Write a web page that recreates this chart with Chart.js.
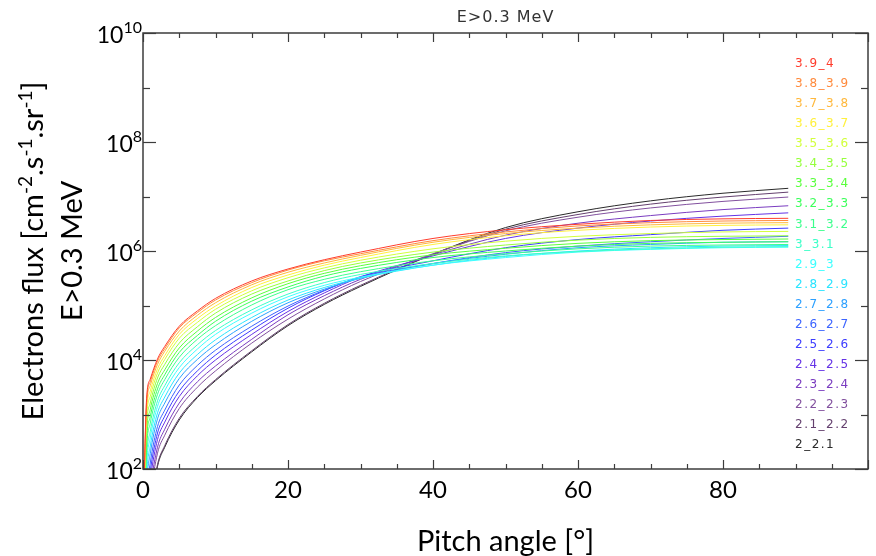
<!DOCTYPE html>
<html>
<head>
<meta charset="utf-8">
<script src="https://cdn.jsdelivr.net/npm/chart.js@4.4.1/dist/chart.umd.min.js"></script>
<style>
html, body { margin: 0; padding: 0; background: #fff; }
#wrap { width: 876px; height: 556px; }
</style>
</head>
<body>
<div id="wrap"><canvas id="container" width="876" height="556"></canvas></div>
<script>
// pitch angle grid (deg) shared by every curve
var pitchAngles = [0, 0.5, 1, 2, 3, 5, 7.5, 10, 15, 20, 25, 30, 40, 50, 60, 70, 80, 89];

// log10 of the flux, one array per L bin
var L39_40 = [1.00, 3.30, 3.65, 4.02, 4.25, 4.62, 4.90, 5.13, 5.45, 5.67, 5.84, 5.98, 6.23, 6.39, 6.49, 6.56, 6.59, 6.60];
var L38_39 = [0.96, 3.24, 3.60, 3.98, 4.21, 4.59, 4.87, 5.10, 5.42, 5.65, 5.82, 5.95, 6.19, 6.35, 6.46, 6.52, 6.55, 6.56];
var L37_38 = [0.90, 3.16, 3.53, 3.92, 4.16, 4.53, 4.82, 5.05, 5.38, 5.61, 5.78, 5.92, 6.16, 6.32, 6.42, 6.48, 6.51, 6.52];
var L36_37 = [0.82, 3.05, 3.43, 3.84, 4.08, 4.47, 4.76, 4.99, 5.33, 5.56, 5.74, 5.88, 6.12, 6.28, 6.38, 6.44, 6.47, 6.48];
var L35_36 = [0.74, 2.94, 3.33, 3.76, 4.01, 4.40, 4.69, 4.93, 5.27, 5.51, 5.69, 5.83, 6.04, 6.18, 6.27, 6.32, 6.35, 6.36];
var L34_35 = [0.64, 2.80, 3.21, 3.67, 3.92, 4.31, 4.61, 4.86, 5.21, 5.45, 5.64, 5.78, 5.98, 6.11, 6.20, 6.25, 6.27, 6.28];
var L33_34 = [0.54, 2.66, 3.09, 3.57, 3.82, 4.22, 4.53, 4.78, 5.14, 5.40, 5.59, 5.73, 5.93, 6.05, 6.14, 6.19, 6.21, 6.22];
var L32_33 = [0.44, 2.52, 2.96, 3.47, 3.73, 4.14, 4.45, 4.71, 5.08, 5.34, 5.54, 5.68, 5.88, 6.00, 6.09, 6.14, 6.16, 6.17];
var L31_32 = [0.34, 2.38, 2.84, 3.37, 3.64, 4.05, 4.38, 4.63, 5.01, 5.29, 5.48, 5.62, 5.82, 5.95, 6.04, 6.09, 6.11, 6.12];
var L30_31 = [0.22, 2.21, 2.69, 3.25, 3.53, 3.95, 4.28, 4.54, 4.92, 5.21, 5.42, 5.57, 5.77, 5.91, 5.99, 6.04, 6.07, 6.08];
var L29_30 = [0.12, 2.07, 2.57, 3.15, 3.44, 3.86, 4.20, 4.47, 4.86, 5.16, 5.37, 5.52, 5.74, 5.88, 5.98, 6.03, 6.06, 6.07];
var L28_29 = [0.00, 1.90, 2.42, 3.03, 3.32, 3.76, 4.10, 4.37, 4.78, 5.10, 5.33, 5.50, 5.74, 5.90, 6.00, 6.06, 6.09, 6.10];
var L27_28 = [-0.12, 1.73, 2.28, 2.92, 3.21, 3.66, 4.01, 4.28, 4.71, 5.05, 5.30, 5.50, 5.77, 5.94, 6.06, 6.12, 6.16, 6.17];
var L26_27 = [-0.26, 1.54, 2.11, 2.78, 3.08, 3.54, 3.90, 4.18, 4.62, 4.99, 5.28, 5.52, 5.77, 5.97, 6.09, 6.17, 6.23, 6.27];
var L25_26 = [-0.38, 1.37, 1.96, 2.66, 2.97, 3.43, 3.80, 4.09, 4.55, 4.95, 5.27, 5.53, 5.82, 6.06, 6.21, 6.30, 6.38, 6.42];
var L24_25 = [-0.50, 1.20, 1.81, 2.54, 2.86, 3.33, 3.71, 4.00, 4.47, 4.89, 5.23, 5.52, 5.91, 6.23, 6.42, 6.55, 6.64, 6.70];
var L23_24 = [-0.64, 1.00, 1.64, 2.40, 2.73, 3.21, 3.60, 3.89, 4.38, 4.83, 5.18, 5.48, 5.93, 6.29, 6.51, 6.65, 6.76, 6.83];
var L22_23 = [-0.76, 0.84, 1.49, 2.29, 2.62, 3.11, 3.50, 3.80, 4.31, 4.75, 5.12, 5.44, 5.95, 6.37, 6.62, 6.79, 6.91, 6.99];
var L21_22 = [-0.95, 0.55, 1.24, 2.08, 2.43, 2.93, 3.33, 3.64, 4.17, 4.65, 5.04, 5.37, 5.94, 6.40, 6.67, 6.86, 6.99, 7.08];
var L20_21 = [-1.00, 0.50, 1.20, 2.05, 2.40, 2.90, 3.31, 3.62, 4.15, 4.63, 5.02, 5.35, 5.94, 6.43, 6.72, 6.92, 7.06, 7.15];

var seriesLabels = ['3.9_4', '3.8_3.9', '3.7_3.8', '3.6_3.7', '3.5_3.6', '3.4_3.5', '3.3_3.4',
    '3.2_3.3', '3.1_3.2', '3_3.1', '2.9_3', '2.8_2.9', '2.7_2.8', '2.6_2.7', '2.5_2.6',
    '2.4_2.5', '2.3_2.4', '2.2_2.3', '2.1_2.2', '2_2.1'];
var seriesLogFlux = [L39_40, L38_39, L37_38, L36_37, L35_36, L34_35, L33_34, L32_33, L31_32, L30_31,
    L29_30, L28_29, L27_28, L26_27, L25_26, L24_25, L23_24, L22_23, L21_22, L20_21];
var seriesColors = ['#ff3c2c', '#ff8a3c', '#ffb83c', '#fff03c', '#d2ff3c', '#96ff3c', '#5aff3c',
    '#3cff5a', '#3cff8c', '#3cffc8', '#3cffff', '#2ae4ff', '#2ca0ff', '#3c64ff', '#3c3cff',
    '#6432e6', '#7a3cc0', '#82509e', '#64406e', '#2a2a2a'];

// axis ticks
var xMajorTicks = [0, 20, 40, 60, 80, 100];
var xLabelTicks = [0, 20, 40, 60, 80];
var xMinorTicks = [5, 10, 15, 25, 30, 35, 45, 50, 55, 65, 70, 75, 85, 90, 95];
var yLabelExps = [2, 4, 6, 8, 10];
var yMinorExps = [3, 5, 7, 9];

var plotTitle = 'E>0.3 MeV';
var xTitle = 'Pitch angle [\u00b0]';

var BIG = 'Lato, "Open Sans", sans-serif';
var SMALL = '"DejaVu Sans", sans-serif';

var datasets = seriesLabels.map(function(lab, i) {
    return {
        label: lab,
        data: pitchAngles.map(function(x, k) { return { x: x, y: Math.pow(10, seriesLogFlux[i][k]) }; }),
        borderColor: seriesColors[i],
        backgroundColor: seriesColors[i],
        borderWidth: 1,
        pointRadius: 0,
        cubicInterpolationMode: 'monotone',
        fill: false
    };
});

function line(ctx, x1, y1, x2, y2) {
    ctx.beginPath();
    ctx.moveTo(x1, y1);
    ctx.lineTo(x2, y2);
    ctx.stroke();
}

var decorations = {
    id: 'decorations',
    afterDatasetsDraw: function(chart) {
        var ctx = chart.ctx, a = chart.chartArea;
        var xs = chart.scales.x, ys = chart.scales.y;
        ctx.save();
        ctx.strokeStyle = '#3c3c3c';
        ctx.lineWidth = 1.5;
        ctx.strokeRect(a.left, a.top, a.right - a.left, a.bottom - a.top);
        ctx.lineWidth = 1.2;
        xMajorTicks.concat(xMinorTicks).forEach(function(v) {
            var px = Math.round(xs.getPixelForValue(v)) + 0.5;
            var len = xMajorTicks.indexOf(v) >= 0 ? 9 : 5;
            line(ctx, px, a.bottom, px, a.bottom - len);
            line(ctx, px, a.top, px, a.top + len);
        });
        yLabelExps.concat(yMinorExps).forEach(function(e) {
            var py = Math.round(ys.getPixelForValue(Math.pow(10, e))) + 0.5;
            var len = yLabelExps.indexOf(e) >= 0 ? 13 : 7;
            line(ctx, a.left, py, a.left + len, py);
            line(ctx, a.right, py, a.right - len, py);
        });

        // y tick labels 10^n
        ctx.fillStyle = '#000';
        ctx.textAlign = 'right';
        ctx.textBaseline = 'alphabetic';
        yLabelExps.forEach(function(e) {
            var py = ys.getPixelForValue(Math.pow(10, e));
            ctx.font = '16px ' + BIG;
            var ew = ctx.measureText(String(e)).width;
            ctx.fillText(String(e), a.left - 1, py - 0.5);
            ctx.font = '23px ' + BIG;
            ctx.fillText('10', a.left - 1 - ew, py + 9.5);
        });

        // y axis title (two lines, rotated, with superscripts)
        var cy = (a.top + a.bottom) / 2;
        var parts = [['Electrons flux [cm', 0], ['-2', 1], ['.s', 0], ['-1', 1], ['.sr', 0], ['-1', 1], [']', 0]];
        ctx.save();
        ctx.translate(43, cy);
        ctx.rotate(-Math.PI / 2);
        ctx.textAlign = 'left';
        var total = 0;
        parts.forEach(function(p) {
            ctx.font = (p[1] ? '19px ' : '29px ') + BIG;
            total += ctx.measureText(p[0]).width;
        });
        var pos = -total / 2;
        parts.forEach(function(p) {
            ctx.font = (p[1] ? '19px ' : '29px ') + BIG;
            ctx.fillText(p[0], pos, p[1] ? -11 : 0);
            pos += ctx.measureText(p[0]).width;
        });
        ctx.restore();
        ctx.save();
        ctx.translate(82, cy);
        ctx.rotate(-Math.PI / 2);
        ctx.textAlign = 'center';
        ctx.font = '29px ' + BIG;
        ctx.fillText('E>0.3 MeV', 0, 0);
        ctx.restore();

        // plot title
        ctx.font = '16px ' + SMALL;
        ctx.letterSpacing = '1px';
        ctx.fillStyle = '#333';
        ctx.textAlign = 'center';
        ctx.textBaseline = 'middle';
        ctx.fillText(plotTitle, (a.left + a.right) / 2, 18);

        // legend, coloured labels inside the plot
        ctx.font = '12px ' + SMALL;
        ctx.letterSpacing = '1.5px';
        ctx.textAlign = 'left';
        chart.data.datasets.forEach(function(ds, i) {
            ctx.fillStyle = ds.borderColor;
            ctx.fillText(ds.label, 795, 64 + i * 20.05);
        });
        ctx.restore();
    }
};

var chart = new Chart(document.getElementById('container'), {
    type: 'line',
    data: { datasets: datasets },
    options: {
        responsive: false,
        animation: false,
        devicePixelRatio: 1,
        layout: { padding: { top: 33, right: 8, left: 0, bottom: 0 } },
        plugins: {
            legend: { display: false },
            title: { display: false },
            tooltip: { enabled: false }
        },
        scales: {
            x: {
                type: 'linear',
                min: 0,
                max: 100,
                grid: { display: false, drawTicks: false },
                border: { display: false },
                afterBuildTicks: function(scale) {
                    scale.ticks = xLabelTicks.map(function(v) { return { value: v }; });
                },
                afterFit: function(scale) { scale.height = 87; },
                ticks: {
                    color: '#000',
                    padding: 7,
                    maxRotation: 0,
                    font: { family: BIG, size: 24 }
                },
                title: {
                    display: true,
                    text: xTitle,
                    color: '#000',
                    padding: { top: 0, bottom: 0 },
                    font: { family: BIG, size: 29, lineHeight: 1 }
                }
            },
            y: {
                type: 'logarithmic',
                min: 1e2,
                max: 1e10,
                grid: { display: false, drawTicks: false },
                border: { display: false },
                afterBuildTicks: function(scale) {
                    scale.ticks = yLabelExps.map(function(e) { return { value: Math.pow(10, e) }; });
                },
                afterFit: function(scale) { scale.width = 143; },
                ticks: { display: false }
            }
        }
    },
    plugins: [decorations]
});
</script>
</body>
</html>
